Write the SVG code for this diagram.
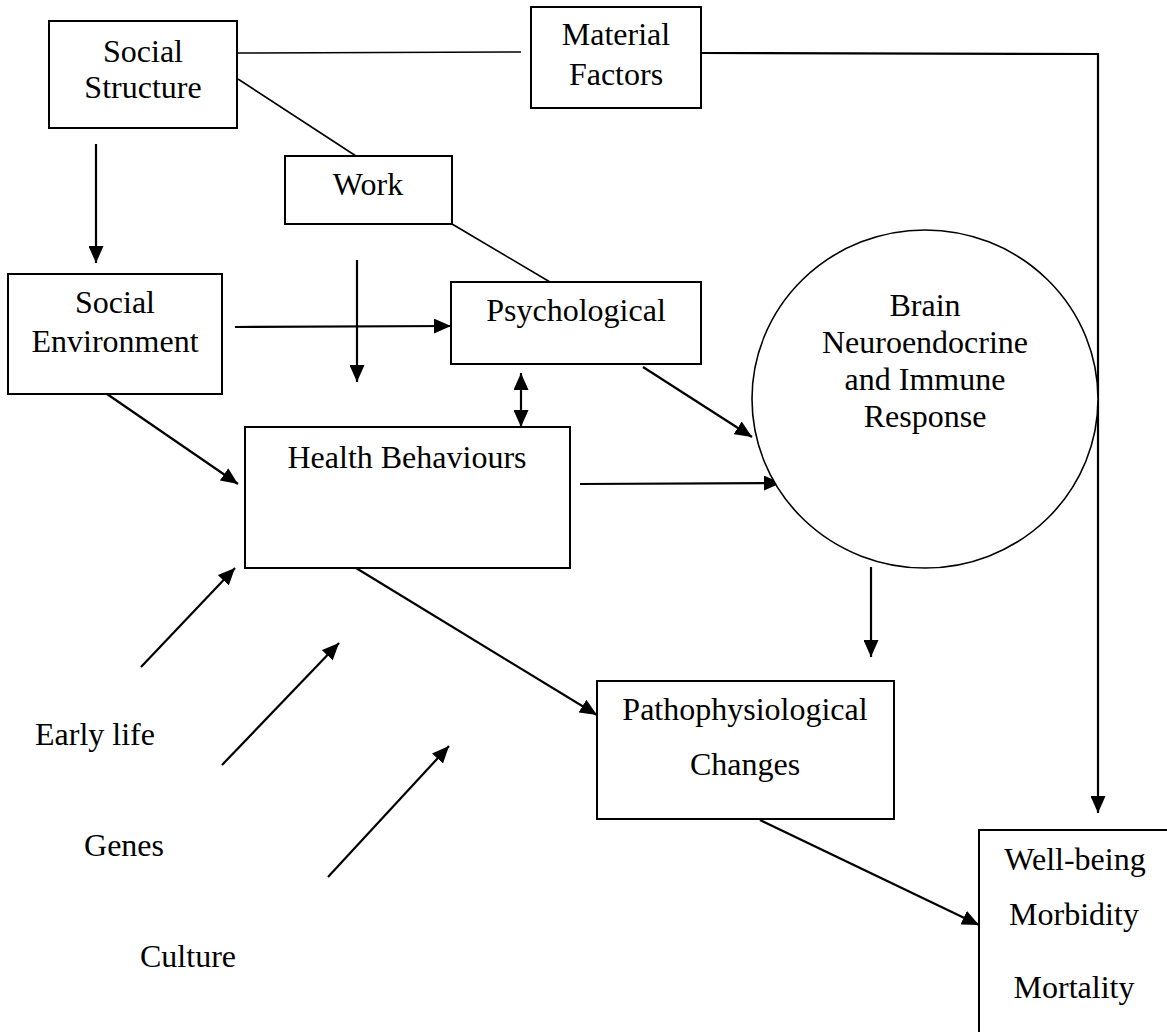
<svg xmlns="http://www.w3.org/2000/svg" width="1167" height="1032" viewBox="0 0 1167 1032">
<style>
  .box{fill:#fff;stroke:#000;stroke-width:2}
  .lbl{font-family:"Liberation Serif","Times New Roman",serif;font-size:32px;fill:#000;text-anchor:middle}
  .ln{fill:none;stroke:#000;stroke-width:1.6}
  .ar{fill:none;stroke:#000;stroke-width:2.2;marker-end:url(#ah)}
</style>
<defs>
  <marker id="ah" viewBox="0 0 17 15" refX="17" refY="7.5" markerWidth="17" markerHeight="15" markerUnits="userSpaceOnUse" orient="auto-start-reverse">
    <path d="M0,0 L17,7.5 L0,15 z" fill="#000"/>
  </marker>
</defs>
<rect width="1167" height="1032" fill="#fff"/>
<g id="connectors">
  <line class="ln" x1="237" y1="53" x2="521" y2="52"/>
  <polyline class="ar" points="701,53 1098,54 1098,813"/>
  <line class="ln" x1="238" y1="79" x2="356" y2="156"/>
  <line class="ln" x1="452" y1="224" x2="550" y2="282"/>
  <line class="ar" x1="96" y1="144" x2="96" y2="263"/>
  <line class="ar" x1="235" y1="327" x2="451" y2="326"/>
  <line class="ar" x1="357" y1="260" x2="357" y2="382"/>
  <line class="ar" x1="521" y1="373" x2="521" y2="427" style="marker-start:url(#ah)"/>
  <line class="ar" x1="107" y1="394" x2="238" y2="484"/>
  <line class="ar" x1="643" y1="367" x2="752" y2="437"/>
  <line class="ar" x1="580" y1="484" x2="781" y2="483"/>
  <line class="ar" x1="871" y1="567" x2="871" y2="657"/>
  <line class="ar" x1="356" y1="568" x2="597" y2="715"/>
  <line class="ar" x1="760" y1="820" x2="979" y2="925"/>
  <line class="ar" x1="141" y1="667" x2="235" y2="568"/>
  <line class="ar" x1="222" y1="765" x2="339" y2="643"/>
  <line class="ar" x1="328" y1="877" x2="449" y2="746"/>
</g>
<g id="social-structure">
  <rect class="box" x="49" y="21" width="188" height="107"/>
  <text class="lbl" x="143" y="62">Social</text>
  <text class="lbl" x="143" y="98">Structure</text>
</g>
<g id="material-factors">
  <rect class="box" x="531" y="7" width="170" height="101"/>
  <text class="lbl" x="616" y="45">Material</text>
  <text class="lbl" x="616" y="85">Factors</text>
</g>
<g id="work">
  <rect class="box" x="285" y="156" width="167" height="68"/>
  <text class="lbl" x="368" y="195">Work</text>
</g>
<g id="social-environment">
  <rect class="box" x="8" y="274" width="214" height="120"/>
  <text class="lbl" x="115" y="313">Social</text>
  <text class="lbl" x="115" y="352">Environment</text>
</g>
<g id="psychological">
  <rect class="box" x="451" y="282" width="250" height="82"/>
  <text class="lbl" x="576" y="321">Psychological</text>
</g>
<g id="brain">
  <ellipse cx="925" cy="399" rx="173" ry="169" fill="#fff" stroke="#000" stroke-width="1.6"/>
  <text class="lbl" x="925" y="316">Brain</text>
  <text class="lbl" x="925" y="353">Neuroendocrine</text>
  <text class="lbl" x="925" y="390">and Immune</text>
  <text class="lbl" x="925" y="427">Response</text>
</g>
<g id="health-behaviours">
  <rect class="box" x="245" y="427" width="325" height="141"/>
  <text class="lbl" x="407" y="468">Health Behaviours</text>
</g>
<g id="pathophysiological">
  <rect class="box" x="597" y="681" width="297" height="138"/>
  <text class="lbl" x="745" y="720">Pathophysiological</text>
  <text class="lbl" x="745" y="775">Changes</text>
</g>
<g id="outcomes">
  <rect class="box" x="979" y="830" width="230" height="250"/>
  <text class="lbl" x="1075" y="870">Well-being</text>
  <text class="lbl" x="1074" y="925">Morbidity</text>
  <text class="lbl" x="1074" y="998">Mortality</text>
</g>
<g id="early-life"><text class="lbl" x="95" y="745">Early life</text></g>
<g id="genes"><text class="lbl" x="124" y="856">Genes</text></g>
<g id="culture"><text class="lbl" x="188" y="967">Culture</text></g>
</svg>
